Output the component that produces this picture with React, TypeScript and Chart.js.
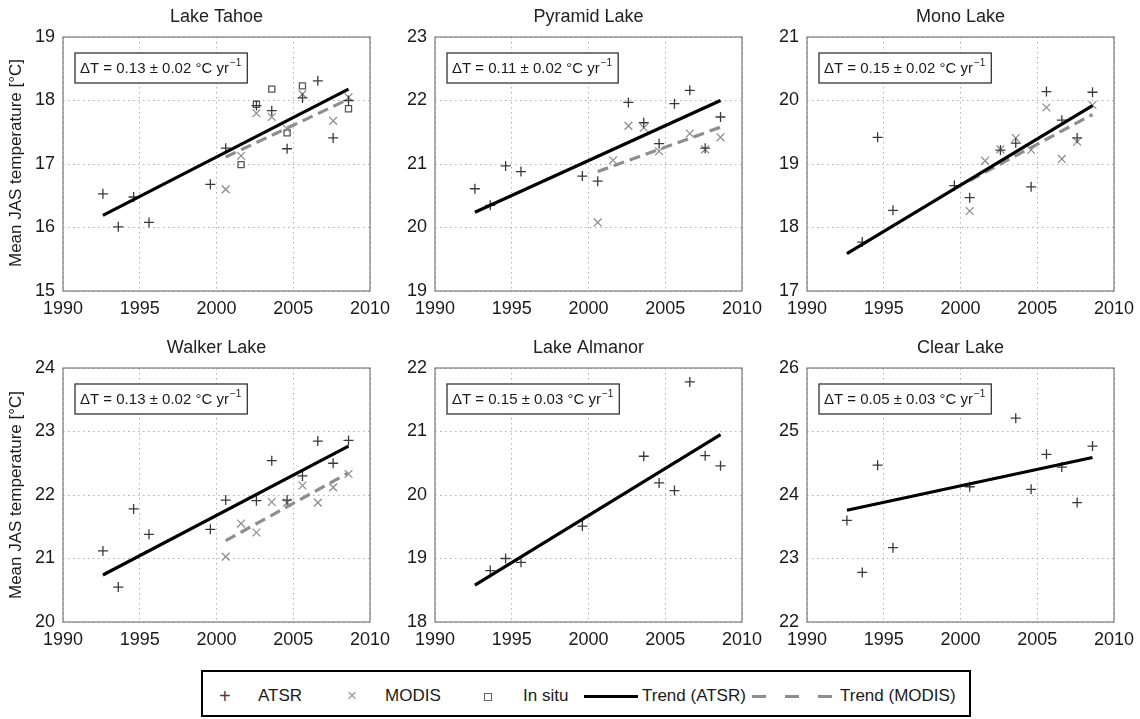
import React, { useEffect, useRef } from "react";
import { Chart, registerables } from "chart.js";

Chart.register(...registerables);

// ---------- data ----------
const ATSR_YEARS = [1992.6, 1993.6, 1994.6, 1995.6, 1999.6, 2000.6, 2001.6, 2002.6, 2003.6, 2004.6, 2005.6, 2006.6, 2007.6, 2008.6];
const MODIS_YEARS = [2000.6, 2001.6, 2002.6, 2003.6, 2004.6, 2005.6, 2006.6, 2007.6, 2008.6];
const TREND_ATSR_YEARS = [1992.6, 2008.6];
const TREND_MODIS_YEARS = [2000.6, 2008.6];
const X_TICKS = [1990, 1995, 2000, 2005, 2010];

const LAKE_NAMES = ["Lake Tahoe", "Pyramid Lake", "Mono Lake", "Walker Lake", "Lake Almanor", "Clear Lake"];
const Y_MIN = [15, 19, 17, 20, 18, 22];
const Y_MAX = [19, 23, 21, 24, 22, 26];
const TREND_RATES = [0.13, 0.11, 0.15, 0.13, 0.15, 0.05];
const TREND_ERRS = [0.02, 0.02, 0.02, 0.02, 0.03, 0.03];

const tahoeAtsr = [16.53, 16.01, 16.48, 16.08, 16.68, 17.25, null, 17.92, 17.84, 17.24, 18.04, 18.31, 17.41, 18.0];
const tahoeModis = [16.6, 17.13, 17.8, 17.74, 17.55, 18.1, null, 17.68, 18.05];
const tahoeInSitu = [null, 16.99, 17.94, 18.18, 17.49, 18.23, null, null, 17.87];
const tahoeTrendAtsr = [16.19, 18.18];
const tahoeTrendModis = [17.11, 18.02];

const pyramidAtsr = [20.61, 20.35, 20.97, 20.88, 20.81, 20.73, null, 21.97, 21.65, 21.32, 21.95, 22.16, 21.25, 21.74];
const pyramidModis = [20.08, 21.06, 21.6, 21.57, 21.2, null, 21.48, 21.23, 21.42];
const pyramidTrendAtsr = [20.24, 22.0];
const pyramidTrendModis = [20.88, 21.58];

const monoAtsr = [null, 17.77, 19.42, 18.27, 18.66, 18.47, null, 19.22, 19.33, 18.64, 20.14, 19.69, 19.41, 20.13];
const monoModis = [18.26, 19.05, 19.23, 19.41, 19.22, 19.89, 19.08, 19.35, 19.93];
const monoTrendAtsr = [17.59, 19.92];
const monoTrendModis = [18.74, 19.78];

const walkerAtsr = [21.12, 20.55, 21.78, 21.38, 21.46, 21.92, null, 21.91, 22.54, 21.92, 22.3, 22.85, 22.5, 22.86];
const walkerModis = [21.03, 21.55, 21.41, 21.89, 21.88, 22.15, 21.88, 22.12, 22.33];
const walkerTrendAtsr = [20.74, 22.77];
const walkerTrendModis = [21.28, 22.35];

const almanorAtsr = [null, 18.81, 19.0, 18.94, 19.51, null, null, null, 20.61, 20.19, 20.07, 21.78, 20.62, 20.46];
const almanorTrendAtsr = [18.58, 20.95];

const clearAtsr = [23.6, 22.78, 24.47, 23.17, null, 24.13, null, null, 25.21, 24.09, 24.64, 24.44, 23.88, 24.77];
const clearTrendAtsr = [23.76, 24.59];

const ATSR_SERIES = [tahoeAtsr, pyramidAtsr, monoAtsr, walkerAtsr, almanorAtsr, clearAtsr];
const MODIS_SERIES = [tahoeModis, pyramidModis, monoModis, walkerModis, null, null];
const INSITU_SERIES = [tahoeInSitu, null, null, null, null, null];
const TREND_ATSR_SERIES = [tahoeTrendAtsr, pyramidTrendAtsr, monoTrendAtsr, walkerTrendAtsr, almanorTrendAtsr, clearTrendAtsr];
const TREND_MODIS_SERIES = [tahoeTrendModis, pyramidTrendModis, monoTrendModis, walkerTrendModis, null, null];

// ---------- layout ----------
const FONT = '"Liberation Sans", Arial, Helvetica, sans-serif';
const COL_LEFT = [63.3, 435.3, 806.7];
const ROW_TOP = [36.7, 368];
const PLOT_W = 306.7;
const PLOT_H = 253.5;
const PAD_LEFT = 63;
const PAD_TOP = 37;
const PAD_RIGHT = 34;
const PAD_BOTTOM = 34;

Chart.defaults.font.family = FONT;

function toPoints(xs: number[], ys: (number | null)[] | null) {
  if (!ys) return [];
  const out: { x: number; y: number }[] = [];
  xs.forEach((x, i) => {
    const y = ys[i];
    if (y !== null && y !== undefined) out.push({ x, y });
  });
  return out;
}

function Panel({ idx }: { idx: number }) {
  const ref = useRef<HTMLCanvasElement>(null);
  const col = idx % 3;
  const row = Math.floor(idx / 3);
  const cLeft = COL_LEFT[col] - PAD_LEFT;
  const cTop = ROW_TOP[row] - PAD_TOP;
  const cW = Math.round(PAD_LEFT + PLOT_W + PAD_RIGHT);
  const cH = Math.round(PAD_TOP + PLOT_H + PAD_BOTTOM);

  useEffect(() => {
    if (!ref.current) return;
    const datasets: any[] = [];
    datasets.push({
      label: "Trend (ATSR)",
      data: toPoints(TREND_ATSR_YEARS, TREND_ATSR_SERIES[idx]),
      showLine: true,
      borderColor: "#000000",
      borderWidth: 3.2,
      pointRadius: 0,
      order: 0,
    });
    if (TREND_MODIS_SERIES[idx]) {
      datasets.push({
        label: "Trend (MODIS)",
        data: toPoints(TREND_MODIS_YEARS, TREND_MODIS_SERIES[idx]),
        showLine: true,
        borderColor: "#8e8e8e",
        borderWidth: 3.2,
        borderDash: [11, 6],
        pointRadius: 0,
        order: 1,
      });
    }
    datasets.push({
      label: "ATSR",
      data: toPoints(ATSR_YEARS, ATSR_SERIES[idx]),
      pointStyle: "cross",
      pointRadius: 5,
      borderColor: "#3a3a3a",
      pointBorderColor: "#3a3a3a",
      pointBorderWidth: 1.3,
      backgroundColor: "rgba(0,0,0,0)",
      order: 2,
    });
    if (MODIS_SERIES[idx]) {
      datasets.push({
        label: "MODIS",
        data: toPoints(MODIS_YEARS, MODIS_SERIES[idx]),
        pointStyle: "crossRot",
        pointRadius: 5.5,
        borderColor: "#8a8a8a",
        pointBorderColor: "#8a8a8a",
        pointBorderWidth: 1.2,
        backgroundColor: "rgba(0,0,0,0)",
        order: 3,
      });
    }
    if (INSITU_SERIES[idx]) {
      datasets.push({
        label: "In situ",
        data: toPoints(MODIS_YEARS, INSITU_SERIES[idx]),
        pointStyle: "rect",
        pointRadius: 4.3,
        borderColor: "#555555",
        pointBorderColor: "#555555",
        pointBorderWidth: 1.3,
        backgroundColor: "rgba(255,255,255,0)",
        pointBackgroundColor: "rgba(255,255,255,0)",
        order: 4,
      });
    }

    const title = LAKE_NAMES[idx];
    const mainText = `ΔT = ${TREND_RATES[idx].toFixed(2)} ± ${TREND_ERRS[idx].toFixed(2)} °C yr`;

    const framePlugin = {
      id: "frame",
      afterDraw(chart: any) {
        const { ctx, chartArea } = chart;
        const { left, top, right, bottom } = chartArea;
        ctx.save();
        ctx.setLineDash([]);
        ctx.strokeStyle = "#7a7a7a";
        ctx.lineWidth = 1.2;
        ctx.strokeRect(left, top, right - left, bottom - top);

        // title
        ctx.fillStyle = "#222222";
        ctx.font = `18px ${FONT}`;
        ctx.textAlign = "center";
        ctx.textBaseline = "middle";
        ctx.fillText(title, (left + right) / 2, top - 20);

        // annotation box
        ctx.font = `15px ${FONT}`;
        const w1 = ctx.measureText(mainText).width;
        ctx.font = `10px ${FONT}`;
        const sup = "−1";
        const w2 = ctx.measureText(sup).width;
        const bx = left + 12;
        const by = top + 16;
        const bw = w1 + w2 + 12;
        const bh = 30;
        ctx.fillStyle = "#ffffff";
        ctx.fillRect(bx, by, bw, bh);
        ctx.strokeStyle = "#333333";
        ctx.lineWidth = 1.3;
        ctx.strokeRect(bx, by, bw, bh);
        ctx.fillStyle = "#1a1a1a";
        ctx.textAlign = "left";
        ctx.textBaseline = "middle";
        ctx.font = `15px ${FONT}`;
        ctx.fillText(mainText, bx + 5, by + bh / 2 + 1);
        ctx.font = `10px ${FONT}`;
        ctx.fillText(sup, bx + 6 + w1, by + bh / 2 - 5);
        ctx.restore();
      },
    };

    const chart = new Chart(ref.current, {
      type: "scatter",
      data: { datasets },
      options: {
        responsive: false,
        animation: false,
        devicePixelRatio: 1,
        events: [],
        layout: { padding: { top: PAD_TOP, right: PAD_RIGHT, left: 0, bottom: 0 } },
        plugins: {
          legend: { display: false },
          tooltip: { enabled: false },
          title: { display: false },
        },
        scales: {
          x: {
            type: "linear",
            min: 1990,
            max: 2010,
            afterBuildTicks: (s: any) => {
              s.ticks = X_TICKS.map((v) => ({ value: v }));
            },
            ticks: {
              color: "#1a1a1a",
              font: { size: 18, family: FONT },
              padding: 7,
              maxRotation: 0,
              autoSkip: false,
              callback: (v: any) => String(v),
            },
            grid: { color: "#b0b0b0", lineWidth: 1, drawTicks: false },
            border: { display: false, dash: [1.5, 3.5] },
            afterFit: (s: any) => {
              s.height = PAD_BOTTOM;
              s.paddingLeft = 0;
              s.paddingRight = 0;
            },
          },
          y: {
            type: "linear",
            min: Y_MIN[idx],
            max: Y_MAX[idx],
            ticks: {
              stepSize: 1,
              color: "#1a1a1a",
              font: { size: 18, family: FONT },
              padding: 8,
              callback: (v: any) => String(v),
            },
            grid: { color: "#b0b0b0", lineWidth: 1, drawTicks: false },
            border: { display: false, dash: [1.5, 3.5] },
            afterFit: (s: any) => {
              s.width = PAD_LEFT;
              s.paddingTop = 0;
              s.paddingBottom = 0;
            },
          },
        },
      },
      plugins: [framePlugin],
    } as any);
    return () => chart.destroy();
  }, [idx]);

  return (
    <canvas
      ref={ref}
      width={cW}
      height={cH}
      style={{ position: "absolute", left: cLeft, top: cTop, width: cW, height: cH }}
    />
  );
}

function Legend() {
  const CY = 24;
  const textStyle: React.CSSProperties = {
    position: "absolute",
    top: CY,
    transform: "translateY(-50%)",
    fontSize: 17,
    fontFamily: FONT,
    color: "#1a1a1a",
    whiteSpace: "nowrap",
    lineHeight: "20px",
  };
  const L = 203; // legend inner origin x
  return (
    <div
      style={{
        position: "absolute",
        left: 201,
        top: 670,
        width: 770,
        height: 47,
        boxSizing: "border-box",
        border: "2px solid #000",
        background: "#fff",
      }}
    >
      <span style={{ ...textStyle, left: 225 - L - 6, color: "#444", fontSize: 20 }}>+</span>
      <span style={{ ...textStyle, left: 258 - L }}>ATSR</span>
      <span style={{ ...textStyle, left: 352 - L - 5, color: "#9a9a9a", fontSize: 17 }}>×</span>
      <span style={{ ...textStyle, left: 385 - L }}>MODIS</span>
      <div
        style={{
          position: "absolute",
          left: 487 - L - 3,
          top: CY - 3,
          width: 6,
          height: 6,
          border: "1.3px solid #666",
        }}
      />
      <span style={{ ...textStyle, left: 523 - L }}>In situ</span>
      <div style={{ position: "absolute", left: 584 - L, top: CY - 1, width: 54, height: 3, background: "#000" }} />
      <span style={{ ...textStyle, left: 642 - L }}>Trend (ATSR)</span>
      <div style={{ position: "absolute", left: 752 - L, top: CY - 1, width: 14, height: 3, background: "#8e8e8e" }} />
      <div style={{ position: "absolute", left: 785 - L, top: CY - 1, width: 14, height: 3, background: "#8e8e8e" }} />
      <div style={{ position: "absolute", left: 818 - L, top: CY - 1, width: 14, height: 3, background: "#8e8e8e" }} />
      <span style={{ ...textStyle, left: 840 - L }}>Trend (MODIS)</span>
    </div>
  );
}

export default function App() {
  const yLabel: React.CSSProperties = {
    position: "absolute",
    left: 16,
    transform: "translate(-50%, -50%) rotate(-90deg)",
    fontSize: 17,
    fontFamily: FONT,
    color: "#1a1a1a",
    whiteSpace: "nowrap",
  };
  return (
    <div
      style={{
        position: "absolute",
        left: 0,
        top: 0,
        width: 1140,
        height: 719,
        background: "#ffffff",
        overflow: "hidden",
      }}
    >
      {[0, 1, 2, 3, 4, 5].map((i) => (
        <Panel key={i} idx={i} />
      ))}
      <div style={{ ...yLabel, top: ROW_TOP[0] + PLOT_H / 2 }}>Mean JAS temperature [°C]</div>
      <div style={{ ...yLabel, top: ROW_TOP[1] + PLOT_H / 2 }}>Mean JAS temperature [°C]</div>
      <Legend />
    </div>
  );
}
